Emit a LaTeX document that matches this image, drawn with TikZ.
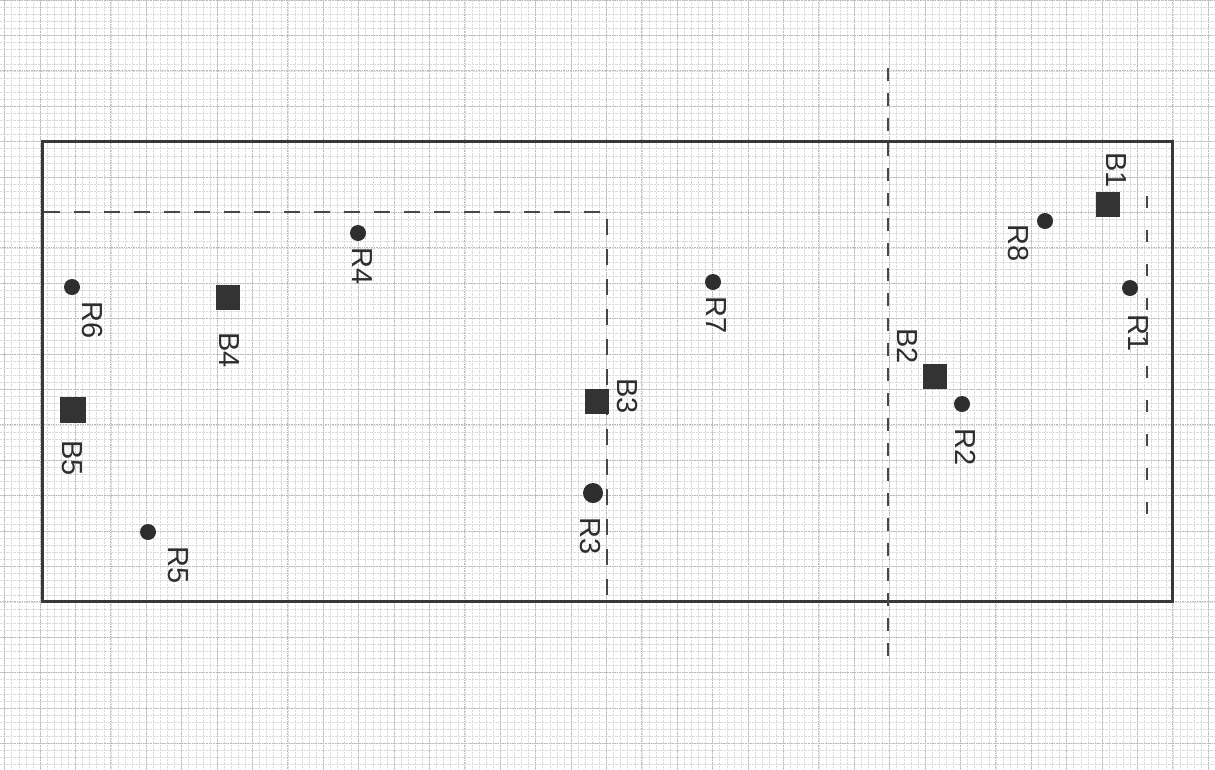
\documentclass[tikz,border=0pt]{standalone}
\usepackage{fontspec}
\setmainfont{Liberation Sans}
\begin{document}
\begin{tikzpicture}[x=1pt,y=-1pt,
  minorgrid/.style={gray!28,line width=0.4pt,densely dotted},
  majorgrid/.style={gray!55,line width=0.7pt,densely dotted},
  frame/.style={line width=3pt,black!78},
  dsh/.style={line width=2pt,black!72,dash pattern=on 16pt off 14pt},
  rdot/.style={circle,fill=black!82,inner sep=0pt,minimum size=16pt},
  bsq/.style={rectangle,fill=black!80,inner sep=0pt,minimum width=24pt,minimum height=25pt},
  lbl/.style={rotate=-90,font=\fontsize{29}{29}\selectfont,text=black!82,inner sep=0pt}
]
\useasboundingbox (0,0) rectangle (1215,769);
\fill[white] (0,0) rectangle (1215,769);
% grid
\foreach \i in {-1,...,171} \draw[minorgrid] ({4.6+7.08*\i},0) -- ({4.6+7.08*\i},769);
\foreach \j in {0,...,109} \draw[minorgrid] (0,{7.08*\j}) -- (1215,{7.08*\j});
\foreach \i in {0,...,34} \draw[majorgrid] ({4.6+35.4*\i},0) -- ({4.6+35.4*\i},769);
\foreach \j in {0,...,21} \draw[majorgrid] (0,{35.4*\j}) -- (1215,{35.4*\j});
% frame
\draw[frame] (42,141.6) rectangle (1172.8,601.8);
% dashed lines
\draw[dsh] (44,212) -- (607,212) -- (607,600);
\draw[dsh,dash pattern=on 13pt off 12pt] (888,68) -- (888,668);
\draw[dsh,dash pattern=on 12pt off 22pt] (1147,196) -- (1147,530);
% blocks
\node[bsq] (B1) at (1108,204) {};
\node[bsq] (B2) at (935,376) {};
\node[bsq] (B3) at (597,401) {};
\node[bsq] (B4) at (228,297) {};
\node[bsq,minimum width=26pt,minimum height=26pt] (B5) at (73,410) {};
% dots
\node[rdot] (R1) at (1130,288) {};
\node[rdot] (R2) at (962,404) {};
\node[rdot,minimum size=20pt] (R3) at (593,493) {};
\node[rdot] (R4) at (358,233) {};
\node[rdot] (R5) at (148,532) {};
\node[rdot] (R6) at (72,287) {};
\node[rdot] (R7) at (713,282) {};
\node[rdot] (R8) at (1045,221) {};
% labels
\node[lbl] (lB1) at (1116,170) {B1};
\node[lbl] (lB2) at (908,346) {B2};
\node[lbl] (lB3) at (627,396) {B3};
\node[lbl] (lB4) at (229,350) {B4};
\node[lbl] (lB5) at (72,458) {B5};
\node[lbl] (lR1) at (1138,333) {R1};
\node[lbl] (lR2) at (966,447) {R2};
\node[lbl] (lR3) at (590,536) {R3};
\node[lbl] (lR4) at (362,266) {R4};
\node[lbl] (lR5) at (178,565) {R5};
\node[lbl] (lR6) at (92,320) {R6};
\node[lbl] (lR7) at (716,315) {R7};
\node[lbl] (lR8) at (1018,243) {R8};
\end{tikzpicture}
\end{document}
